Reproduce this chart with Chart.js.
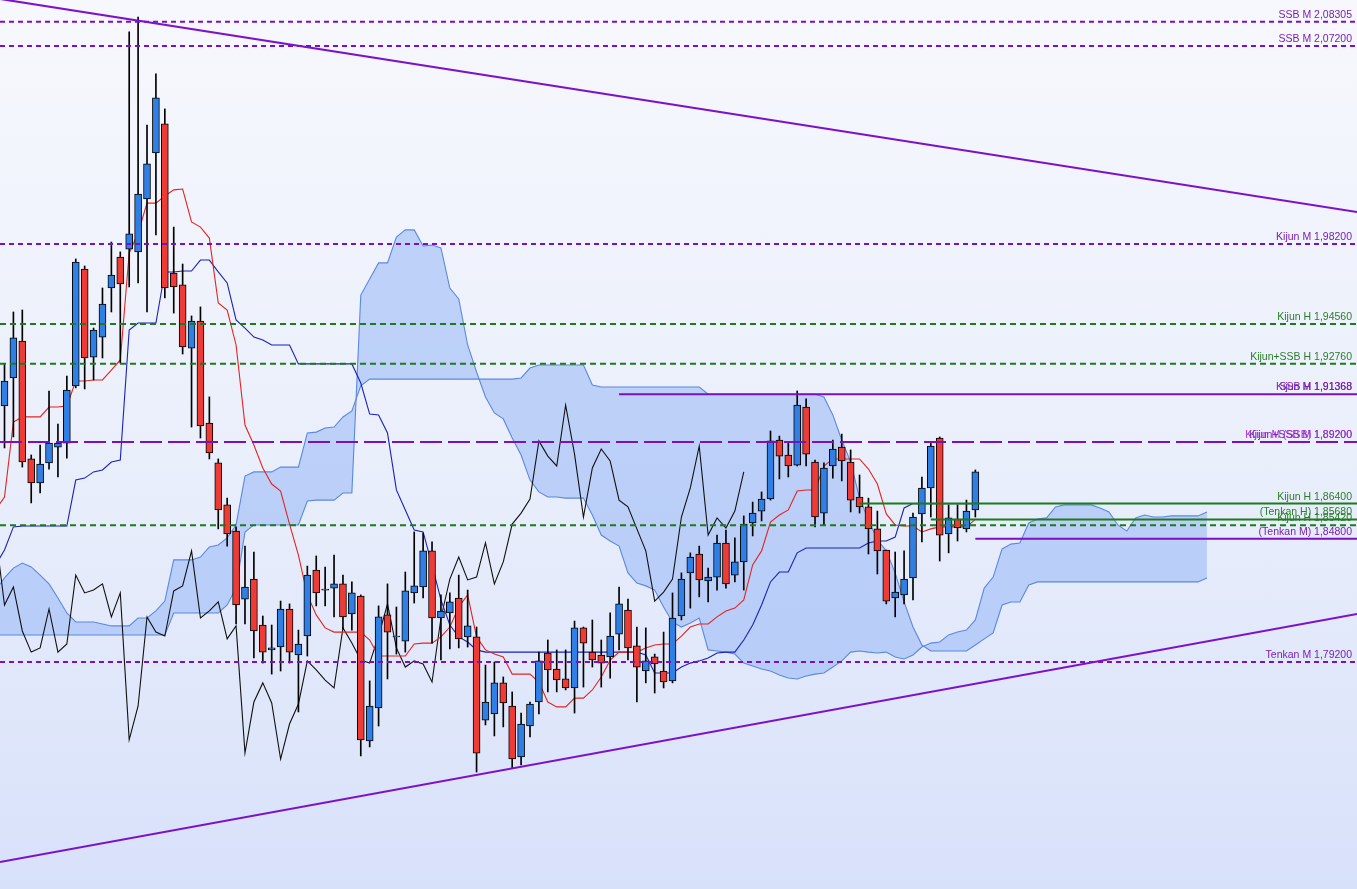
<!DOCTYPE html>
<html><head><meta charset="utf-8">
<script src="https://cdn.jsdelivr.net/npm/chart.js@4.4.0/dist/chart.umd.min.js"></script>
<style>
html,body{margin:0;padding:0;width:1357px;height:889px;overflow:hidden;}
#wrap{position:relative;width:1357px;height:889px;background:linear-gradient(to bottom,#f7f8fd 0%,#eaeffb 50%,#d8e1fa 100%);}
</style></head><body><div id="wrap"><canvas id="c"></canvas></div>
<script>
// ---- candles (index 0..109)
const opens=[1.9084,1.9211,1.9379,1.8843,1.8734,1.8825,1.8897,1.8915,1.9175,1.9706,
1.9306,1.9397,1.9620,1.9761,1.9797,1.9784,2.0025,2.0234,2.0366,1.9688,
1.9634,1.9347,1.9470,1.9006,1.8825,1.8634,1.8515,1.8206,1.8297,1.8088,
1.7975,1.7988,1.8161,1.7952,1.8038,1.8338,1.8252,1.8256,1.8275,1.8138,
1.8220,1.7561,1.7711,1.8134,1.8034,1.8015,1.8234,1.8261,1.8425,1.8120,
1.8143,1.8211,1.8034,1.8034,1.7656,1.7684,1.7825,1.7720,1.7488,1.7629,
1.7738,1.7961,1.7888,1.7843,1.7802,1.8075,1.7965,1.7952,1.7943,1.8047,
1.8156,1.7993,1.7879,1.7943,1.7879,1.7834,1.8129,1.8325,1.8411,1.8288,
1.8306,1.8461,1.8315,1.8375,1.8552,1.8606,1.8661,1.8929,1.8861,1.8815,
1.9079,1.8829,1.8597,1.8811,1.8897,1.8829,1.8670,1.8625,1.8525,1.8429,
1.8211,1.8225,1.8302,1.8593,1.8711,1.8938,1.8502,1.8570,1.8525,1.8611];
const highs=[1.9275,1.9511,1.9520,1.8861,1.8906,1.9152,1.9002,1.9220,1.9752,1.9720,
1.9438,1.9620,1.9829,1.9784,2.0784,2.0852,2.0361,2.0593,2.0434,1.9897,
1.9729,1.9493,1.9534,1.9125,1.8843,1.8665,1.8534,1.8447,1.8420,1.8129,
1.8088,1.8197,1.8184,1.8065,1.8356,1.8402,1.8352,1.8406,1.8315,1.8284,
1.8225,1.7834,1.8175,1.8275,1.8170,1.8329,1.8511,1.8506,1.8466,1.8225,
1.8234,1.8315,1.8247,1.8079,1.7906,1.7920,1.7852,1.7784,1.7688,1.7738,
1.7965,1.8020,1.7975,1.7975,1.8106,1.8079,1.8111,1.8020,1.8143,1.8261,
1.8206,1.8079,1.8075,1.7956,1.8056,1.8234,1.8325,1.8416,1.8447,1.8347,
1.8497,1.8520,1.8484,1.8584,1.8647,1.8693,1.8970,1.8947,1.8915,1.9152,
1.9116,1.8838,1.8825,1.8929,1.8956,1.8884,1.8770,1.8665,1.8606,1.8429,
1.8420,1.8425,1.8597,1.8761,1.8920,1.8943,1.8634,1.8634,1.8656,1.8793];
const lows=[1.8893,1.8943,1.8806,1.8643,1.8688,1.8797,1.8761,1.8847,1.9166,1.9161,
1.9202,1.9302,1.9511,1.9279,1.9625,1.9643,1.9511,1.9861,1.9575,1.9506,
1.9320,1.8988,1.8938,1.8843,1.8525,1.8447,1.8093,1.8093,1.7938,1.7915,
1.7865,1.7879,1.7915,1.7693,1.7947,1.8175,1.8175,1.8125,1.8070,1.8065,
1.7493,1.7534,1.7629,1.7843,1.7956,1.7965,1.8188,1.8211,1.8006,1.7929,
1.7979,1.7984,1.7988,1.7420,1.7634,1.7584,1.7625,1.7438,1.7452,1.7579,
1.7684,1.7784,1.7784,1.7793,1.7688,1.7806,1.7897,1.7806,1.7847,1.7975,
1.7929,1.7738,1.7825,1.7779,1.7802,1.7825,1.8111,1.8165,1.8216,1.8193,
1.8247,1.8256,1.8284,1.8247,1.8493,1.8561,1.8656,1.8752,1.8761,1.8811,
1.8811,1.8534,1.8543,1.8756,1.8743,1.8602,1.8597,1.8411,1.8320,1.8184,
1.8125,1.8184,1.8202,1.8466,1.8579,1.8379,1.8416,1.8470,1.8511,1.8579];
const closes=[1.9197,1.9393,1.8829,1.8734,1.8820,1.8915,1.8915,1.9156,1.9738,1.9302,
1.9429,1.9547,1.9679,1.9638,1.9866,2.0047,2.0184,2.0484,1.9620,1.9625,
1.9352,1.9470,1.8993,1.8870,1.8611,1.8502,1.8179,1.8261,1.8061,1.7965,
1.7984,1.8161,1.7965,1.8002,1.8315,1.8234,1.8247,1.8275,1.8125,1.8234,
1.7566,1.7720,1.8125,1.8056,1.8038,1.8243,1.8266,1.8425,1.8120,1.8152,
1.8193,1.8025,1.8084,1.7506,1.7738,1.7825,1.7734,1.7479,1.7638,1.7729,
1.7925,1.7884,1.7838,1.7802,1.8075,1.8006,1.7929,1.7915,1.8038,1.8184,
1.7984,1.7897,1.7925,1.7911,1.7829,1.8120,1.8297,1.8397,1.8293,1.8306,
1.8461,1.8275,1.8375,1.8547,1.8597,1.8661,1.8925,1.8856,1.8811,1.9088,
1.8865,1.8579,1.8802,1.8888,1.8834,1.8656,1.8625,1.8525,1.8425,1.8197,
1.8238,1.8297,1.8579,1.8711,1.8902,1.8497,1.8575,1.8529,1.8606,1.8784];

// ---- Ichimoku lines (tenkan/kijun: index -1..109; spans: index -1..135)
const tenkan=[1.8611,1.8670,1.9011,1.9034,1.9034,1.9034,1.9079,1.9079,1.9084,1.9197,1.9197,
1.9202,1.9202,1.9247,1.9293,1.9779,1.9870,2.0006,2.0006,2.0038,2.0066,
2.0070,1.9920,1.9897,1.9847,1.9552,1.9520,1.9361,1.8997,1.8906,1.8802,
1.8729,1.8697,1.8547,1.8406,1.8225,1.8134,1.8075,1.8056,1.8056,1.8056,
1.8056,1.8020,1.7947,1.7947,1.7947,1.7947,1.8002,1.8006,1.8006,1.8034,
1.8079,1.8170,1.8225,1.8034,1.7975,1.7956,1.7943,1.7865,1.7865,1.7865,
1.7829,1.7738,1.7716,1.7716,1.7756,1.7756,1.7793,1.7852,1.7929,1.7965,
1.7965,1.7965,1.7984,1.7997,1.8002,1.8002,1.8038,1.8079,1.8093,1.8093,
1.8125,1.8152,1.8165,1.8202,1.8361,1.8425,1.8556,1.8588,1.8611,1.8697,
1.8702,1.8702,1.8811,1.8843,1.8843,1.8843,1.8843,1.8797,1.8729,1.8593,
1.8543,1.8538,1.8538,1.8511,1.8525,1.8534,1.8534,1.8534,1.8534,1.8568];
const kijun=[1.8361,1.8429,1.8534,1.8538,1.8538,1.8538,1.8538,1.8538,1.8538,1.8747,1.8756,
1.8784,1.8793,1.8829,1.8838,1.9429,1.9461,1.9461,1.9461,1.9693,1.9693,
1.9697,1.9697,1.9747,1.9747,1.9693,1.9643,1.9475,1.9438,1.9397,1.9384,
1.9361,1.9361,1.9361,1.9275,1.9275,1.9275,1.9275,1.9275,1.9275,1.9275,
1.9188,1.9047,1.9043,1.8961,1.8702,1.8611,1.8520,1.8511,1.8361,1.8202,
1.8088,1.8034,1.8011,1.7975,1.7965,1.7965,1.7965,1.7965,1.7965,1.7965,
1.7965,1.7965,1.7965,1.7965,1.7965,1.7965,1.7965,1.7965,1.7965,1.7965,
1.7965,1.7965,1.7952,1.7870,1.7870,1.7870,1.7897,1.7915,1.7925,1.7938,
1.7961,1.7965,1.7965,1.8020,1.8088,1.8179,1.8284,1.8329,1.8329,1.8416,
1.8438,1.8438,1.8438,1.8438,1.8438,1.8438,1.8438,1.8461,1.8470,1.8470,
1.8488,1.8620,1.8640,1.8640,1.8640,1.8640,1.8640,1.8640,1.8640,1.8640];
const spanA=[1.8043,
1.8043,1.8043,1.8043,1.8043,1.8043,1.8043,1.8043,1.8043,1.8043,1.8043,
1.8043,1.8043,1.8043,1.8043,1.8043,1.8043,1.8043,1.8043,1.8043,1.8143,
1.8143,1.8143,1.8143,1.8143,1.8143,1.8179,1.8256,1.8511,1.8543,1.8543,
1.8543,1.8543,1.8543,1.8543,1.8652,1.8656,1.8656,1.8656,1.8688,1.8688,
1.9588,1.9661,1.9734,1.9734,1.9852,1.9884,1.9884,1.9811,1.9815,1.9802,
1.9620,1.9570,1.9361,1.9238,1.9125,1.9052,1.9025,1.8938,1.8861,1.8747,
1.8693,1.8670,1.8670,1.8665,1.8665,1.8665,1.8588,1.8497,1.8470,1.8447,
1.8325,1.8279,1.8266,1.8247,1.8170,1.8102,1.8079,1.8097,1.8120,1.7975,
1.7970,1.7965,1.7956,1.7915,1.7902,1.7888,1.7879,1.7861,1.7847,1.7843,
1.7856,1.7865,1.7870,1.7897,1.7925,1.7965,1.7970,1.7965,1.7961,1.7965,
1.7943,1.7934,1.7952,1.7988,1.8006,1.8011,1.8043,1.8056,1.8065,1.8111,
1.8256,1.8306,1.8434,1.8456,1.8461,1.8552,1.8570,1.8575,1.8625,1.8634,
1.8634,1.8634,1.8634,1.8620,1.8602,1.8543,1.8515,1.8575,1.8588,1.8579,
1.8579,1.8584,1.8584,1.8584,1.8584,1.8602];
const spanB=[1.8247,
1.8302,1.8347,1.8370,1.8352,1.8315,1.8275,1.8211,1.8143,1.8102,1.8102,
1.8102,1.8093,1.8084,1.8084,1.8084,1.8120,1.8120,1.8152,1.8197,1.8384,
1.8384,1.8384,1.8397,1.8443,1.8452,1.8484,1.8543,1.8765,1.8784,1.8784,
1.8784,1.8806,1.8806,1.8806,1.8961,1.8965,1.8984,1.8988,1.9034,1.9061,
1.9175,1.9206,1.9206,1.9206,1.9206,1.9206,1.9206,1.9206,1.9206,1.9206,
1.9206,1.9206,1.9206,1.9206,1.9206,1.9206,1.9206,1.9206,1.9211,1.9256,
1.9270,1.9270,1.9270,1.9270,1.9270,1.9270,1.9179,1.9170,1.9170,1.9170,
1.9170,1.9170,1.9170,1.9170,1.9170,1.9170,1.9170,1.9170,1.9170,1.9137,
1.9137,1.9137,1.9137,1.9137,1.9137,1.9137,1.9137,1.9137,1.9137,1.9137,
1.9137,1.9137,1.9125,1.9043,1.8929,1.8829,1.8665,1.8565,1.8475,1.8425,
1.8325,1.8193,1.8079,1.7997,1.7970,1.7970,1.7970,1.7970,1.7970,1.7997,
1.8025,1.8052,1.8179,1.8193,1.8193,1.8270,1.8284,1.8284,1.8284,1.8284,
1.8284,1.8284,1.8284,1.8284,1.8284,1.8284,1.8284,1.8284,1.8284,1.8284,
1.8284,1.8284,1.8284,1.8284,1.8284,1.8302];
const chikouShift=26;

// ---- trend lines (value at left edge, value at right edge)
const trendUpper=[2.09336,1.99655];
const trendLower=[1.70109,1.81382];

// ---- horizontal levels
const levelPrices=[2.08305,2.07200,1.98200,1.94560,1.92760,1.91368,1.89200,1.86400,1.85680,1.85420,1.84800,1.79200];
const levelStartIndex=[null,null,null,null,null,69,null,96,104,null,109,null];
const levelKinds=['dotM','dotM','dotM','dashH','dashH','solidM','longM','solidH','solidH','dashH','solidM','dotM'];
const labelTexts=['SSB M 2,08305','SSB M 2,07200','Kijun M 1,98200','Kijun H 1,94560','Kijun+SSB H 1,92760',
  'Kijun M 1,91368','SSB H 1,91368','Kijun+SSB M 1,89200','Kijun M (SSB) 1,89200',
  'Kijun H 1,86400','(Tenkan H) 1,85680','Kijun H 1,85420','(Tenkan M) 1,84800','Tenkan M 1,79200'];
const labelPrices=[2.08305,2.07200,1.98200,1.94560,1.92760,1.91368,1.91368,1.89200,1.89200,1.86400,1.85680,1.85420,1.84800,1.79200];
const labelKinds=['M','M','M','H','H','M','M','M','M2','H','H','H','M','M'];

// ---- scale extents
const X_MIN=-0.505, X_MAX=151.85, Y_MIN=1.688818, Y_MAX=2.092909;

const PURPLE='#7a10c0', GREEN='#1d7a1d';
const styleOf={
  dotM:{c:PURPLE,w:2,d:[5,4]},
  dashH:{c:GREEN,w:2,d:[6,4]},
  solidM:{c:PURPLE,w:2,d:[]},
  solidH:{c:GREEN,w:2,d:[]},
  longM:{c:PURPLE,w:2,d:[22,6]}
};

const idx=closes.map((_,i)=>i);
const datasets=[];

// cloud
datasets.push({type:'line',data:spanA.map((v,k)=>({x:k-1,y:v})),borderColor:'#5b88e0',borderWidth:1.1,
  pointRadius:0,tension:0,fill:'+1',backgroundColor:'rgba(150,182,245,0.55)',order:20});
datasets.push({type:'line',data:spanB.map((v,k)=>({x:k-1,y:v})),borderColor:'#5b88e0',borderWidth:1.1,
  pointRadius:0,tension:0,fill:false,order:19});
// chikou
datasets.push({type:'line',data:closes.map((v,i)=>({x:i-chikouShift,y:v})),borderColor:'#111',borderWidth:1.1,
  pointRadius:0,tension:0,fill:false,order:15});
// kijun, tenkan
datasets.push({type:'line',data:kijun.map((v,k)=>({x:k-1,y:v})),borderColor:'#1a22b8',borderWidth:1.1,
  pointRadius:0,tension:0,fill:false,order:14});
datasets.push({type:'line',data:tenkan.map((v,k)=>({x:k-1,y:v})),borderColor:'#e42420',borderWidth:1.1,
  pointRadius:0,tension:0,fill:false,order:13});
// wicks and bodies
datasets.push({type:'bar',data:idx.map(i=>({x:i,y:[lows[i],highs[i]]})),backgroundColor:'#000',borderWidth:0,
  barThickness:1,grouped:false,order:11});
datasets.push({type:'bar',data:idx.map(i=>({x:i,y:[opens[i],closes[i]]})),
  backgroundColor:idx.map(i=>closes[i]>=opens[i]?'#2f7fe4':'#ef3b35'),borderColor:'#000',borderWidth:1,
  borderSkipped:false,barThickness:7,grouped:false,order:10});
// levels
levelPrices.forEach((p,k)=>{
  const s=styleOf[levelKinds[k]];
  const x0=levelStartIndex[k]===null?X_MIN:levelStartIndex[k];
  datasets.push({type:'line',data:[{x:x0,y:p},{x:X_MAX,y:p}],borderColor:s.c,borderWidth:s.w,borderDash:s.d,
    pointRadius:0,fill:false,order:3});
});
// trend lines
datasets.push({type:'line',data:[{x:X_MIN,y:trendUpper[0]},{x:X_MAX,y:trendUpper[1]}],borderColor:'#7d12c8',borderWidth:2.2,pointRadius:0,fill:false,order:2});
datasets.push({type:'line',data:[{x:X_MIN,y:trendLower[0]},{x:X_MAX,y:trendLower[1]}],borderColor:'#7d12c8',borderWidth:2.2,pointRadius:0,fill:false,order:2});

const labelPlugin={
  id:'levelLabels',
  afterDatasetsDraw(chart){
    const {ctx,chartArea,scales:{y}}=chart;
    ctx.save();
    ctx.font='10.5px "Liberation Sans", Arial, sans-serif';
    ctx.textAlign='right';ctx.textBaseline='alphabetic';
    labelTexts.forEach((t,k)=>{
      const kind=labelKinds[k];
      ctx.fillStyle=kind==='H'?'#2a7d2a':(kind==='M2'?'#a235d0':'#7a1fb0');
      ctx.fillText(t,chartArea.right-5,y.getPixelForValue(labelPrices[k])-4);
    });
    ctx.restore();
  }
};

new Chart(document.getElementById('c'),{
  type:'bar',
  data:{datasets},
  options:{
    responsive:true,maintainAspectRatio:false,animation:false,
    layout:{padding:0},
    plugins:{legend:{display:false},tooltip:{enabled:false}},
    scales:{
      x:{type:'linear',min:X_MIN,max:X_MAX,display:false,offset:false,grid:{display:false}},
      y:{type:'linear',min:Y_MIN,max:Y_MAX,display:false,beginAtZero:false,grid:{display:false}}
    }
  },
  plugins:[labelPlugin]
});
</script></body></html>
